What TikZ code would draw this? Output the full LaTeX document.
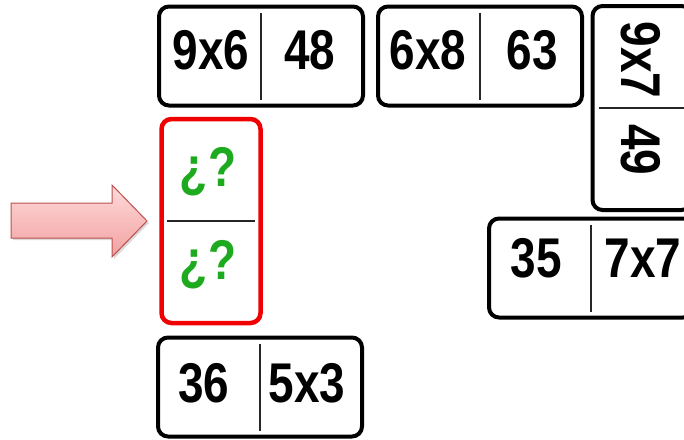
\documentclass[tikz,border=0pt]{standalone}
\usepackage{fontspec}
\newfontfamily\domfont{Liberation Sans}[FakeStretch=0.82]
\usetikzlibrary{positioning,shadows}
\definecolor{askgreen}{RGB}{30,170,30}
\definecolor{askred}{RGB}{240,0,0}
\definecolor{arrowtop}{RGB}{255,218,218}
\definecolor{arrowbot}{RGB}{242,160,160}
\definecolor{arrowline}{RGB}{190,80,80}

\begin{document}
\begin{tikzpicture}[
  x=1pt, y=-1pt,
  every node/.style={inner sep=0pt},
  tile/.style={draw, line width=4pt, rounded corners=10pt, minimum width=204pt, minimum height=99pt},
  upright/.style={tile, minimum width=99pt, minimum height=204pt},
  num/.style={font=\domfont\bfseries\fontsize{56}{60}\selectfont},
  ask/.style={num, text=askgreen},
  split/.style={line width=1.2pt, draw=black!85},
]
\useasboundingbox (0,0) rectangle (684,439);

% pointer
\draw[arrowline, line width=1pt, top color=arrowtop, bottom color=arrowbot,
  drop shadow={opacity=0.3, shadow xshift=2pt, shadow yshift=-2pt}]
  (11,203) -- (112,203) -- (112,185) -- (147,221) -- (112,257) -- (112,238) -- (11,238) -- cycle;

% tiles
\node[tile] (T1) at (261,56) {};
\node[tile] (T2) at (480,56) {};
\node[upright] (T3) at (642,108) {};
\node[tile] (T4) at (591,268) {};
\node[tile] (T5) at (260,387) {};
\node[upright, draw=askred, line width=4.5pt] (Q) at (211,221) {};

% halves
\draw[split] ([yshift=-8pt]T1.north) -- ([yshift=8pt]T1.south);
\draw[split] ([yshift=-8pt]T2.north) -- ([yshift=8pt]T2.south);
\draw[split] ([xshift=8pt]T3.west) -- ([xshift=-8pt]T3.east);
\draw[split] ([yshift=-8pt]T4.north) -- ([yshift=8pt]T4.south);
\draw[split] ([yshift=-8pt]T5.north) -- ([yshift=8pt]T5.south);
\draw[split] ([xshift=8pt]Q.west) -- ([xshift=-8pt]Q.east);

% numbers
\node[num] (a1) at (211,50) {9x6};
\node[num] (a2) at (310,50) {48};
\node[num] (b1) at (428,50) {6x8};
\node[num] (b2) at (532,50) {63};
\node[num, rotate=-90] (c1) at (641,60) {9x7};
\node[num, rotate=-90] (c2) at (641,150) {49};
\node[num] (d1) at (536,258) {35};
\node[num] (d2) at (643,258) {7x7};
\node[num] (e1) at (204,383) {36};
\node[num] (e2) at (307,383) {5x3};
\node[ask] (q1) at (208,172) {¿?};
\node[ask] (q2) at (208,265) {¿?};
\end{tikzpicture}
\end{document}
